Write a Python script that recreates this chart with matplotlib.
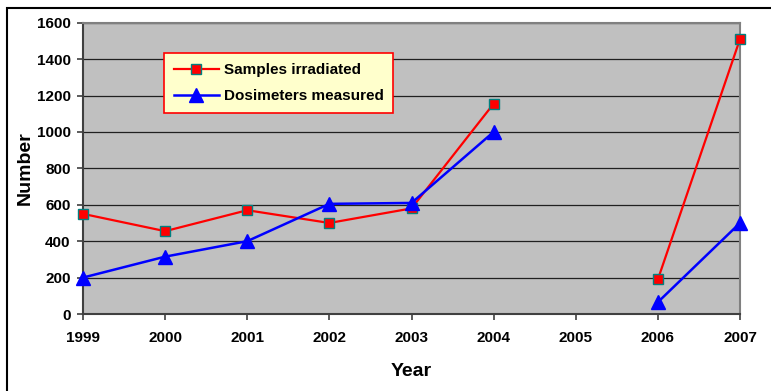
import numpy as np
import matplotlib.pyplot as plt
from matplotlib.patches import Rectangle

plt.rcParams['font.family'] = ['Liberation Sans', 'DejaVu Sans']
plt.rcParams['font.weight'] = 'bold'

years = [1999, 2000, 2001, 2002, 2003, 2004, 2005, 2006, 2007]
samples = [550, 455, 570, 500, 580, 1155, np.nan, 190, 1510]
dosimeters = [200, 315, 400, 605, 610, 1000, np.nan, 65, 500]

fig = plt.figure(figsize=(7.71, 3.91), dpi=100)
ax = fig.add_axes([83 / 771, 1 - 314 / 391, (740 - 83) / 771, (314 - 22.7) / 391])

# outer chart frame, runs off the right and bottom edges
fig.patches.append(Rectangle((7 / 771, -0.1), 1.2, 1 - 8 / 391 + 0.1,
                             transform=fig.transFigure, fill=False,
                             edgecolor='black', linewidth=1.5))

ax.set_facecolor('#C0C0C0')
ax.plot(years, samples, color='red', lw=1.6, marker='s', ms=7.5,
        mfc='red', mec='#008080', mew=1.0, label='Samples irradiated', zorder=3)
ax.plot(years, dosimeters, color='blue', lw=1.8, marker='^', ms=10,
        mfc='blue', mec='blue', label='Dosimeters measured', zorder=3)

ax.set_xlim(1999, 2007)
ax.set_ylim(0, 1600)
ax.set_xticks(years)
ax.set_yticks(range(0, 1601, 200))
ax.grid(axis='y', color='#202020', lw=0.9)
ax.set_axisbelow(True)
for line in ax.lines:
    line.set_clip_on(False)

ax.tick_params(axis='both', direction='out', length=4, width=1.2, color='#404040',
               labelsize=11, pad=5)
ax.tick_params(axis='x', pad=8)
for side in ['left', 'bottom']:
    ax.spines[side].set_color('#404040')
    ax.spines[side].set_linewidth(1.5)
for side in ['top', 'right']:
    ax.spines[side].set_color('#808080')
    ax.spines[side].set_linewidth(1.5)

fig.text(411 / 771, 1 - 372 / 391, 'Year', ha='center', va='center',
         fontsize=14, fontweight='bold')
fig.text(25 / 771, 1 - 168 / 391, 'Number', ha='center', va='center',
         rotation=90, fontsize=14, fontweight='bold')

leg = ax.legend(loc='upper left', bbox_to_anchor=((164 - 83) / 657, 1 - (53 - 22.7) / 291.3),
                frameon=True, fancybox=False, fontsize=11, handlelength=2.95,
                borderpad=0.65, labelspacing=0.8, handletextpad=0.3, borderaxespad=0)
leg.get_frame().set_facecolor('#FFFFCC')
leg.get_frame().set_edgecolor('red')
leg.get_frame().set_linewidth(1.2)
leg.get_frame().set_alpha(1)
for t in leg.get_texts():
    t.set_fontweight('bold')

fig.savefig('out.png', dpi=100)
